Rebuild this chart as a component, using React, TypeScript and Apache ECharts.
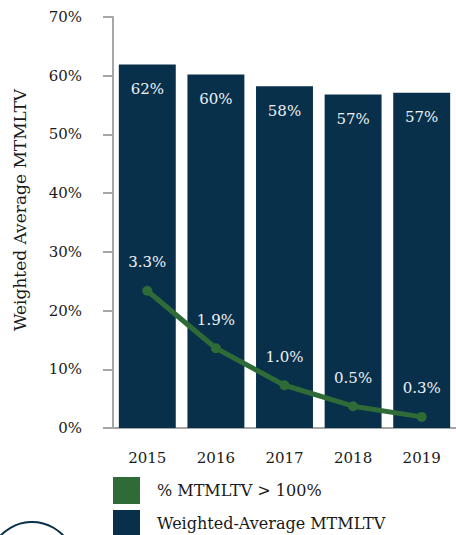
import React, { useEffect, useRef } from "react";
import * as echarts from "echarts";

const years = ["2015", "2016", "2017", "2018", "2019"];
const weightedAvg = [61.9, 60.2, 58.2, 56.8, 57.1];
const overHundred = [3.34, 1.94, 1.04, 0.53, 0.27];
const yTicks = [0, 10, 20, 30, 40, 50, 60, 70];
const seriesNames = ["% MTMLTV > 100%", "Weighted-Average MTMLTV"];

const NAVY = "#08304b";
const GREEN = "#2e6b36";
const FONT = "DejaVu Serif";

export default function App() {
  const ref = useRef<HTMLDivElement>(null);
  useEffect(() => {
    if (!ref.current) return;
    const chart = echarts.init(ref.current, null, { renderer: "svg" });
    const legendBase = {
      orient: "horizontal",
      left: 108,
      itemWidth: 27,
      itemHeight: 27,
      icon: "rect",
      textStyle: { fontFamily: FONT, fontSize: 16, lineHeight: 16, color: "#1a1a1a", padding: [0, 0, 0, 12] },
    };
    chart.setOption({
      animation: false,
      textStyle: { fontFamily: FONT },
      grid: { left: 113, top: 17, width: 344, height: 411, containLabel: false },
      legend: [
        { ...legendBase, top: 472, data: [seriesNames[0]] },
        { ...legendBase, top: 505, data: [seriesNames[1]] },
      ],
      xAxis: {
        type: "category",
        data: years,
        axisLine: { lineStyle: { color: "#a6a6a6", width: 2 } },
        axisTick: { show: false },
        axisLabel: { fontFamily: FONT, fontSize: 15, color: "#1a1a1a", margin: 22 },
      },
      yAxis: [
        {
          type: "value",
          min: yTicks[0],
          max: yTicks[yTicks.length - 1],
          interval: 10,
          axisLine: { show: true, lineStyle: { color: "#a6a6a6", width: 2 } },
          axisTick: { show: true, length: 10, lineStyle: { color: "#a6a6a6", width: 2 } },
          splitLine: { show: false },
          axisLabel: { fontFamily: FONT, fontSize: 15, color: "#1a1a1a", margin: 31, formatter: "{value}%" },
        },
        {
          type: "value",
          min: 0,
          max: 10,
          show: false,
          splitLine: { show: false },
        },
      ],
      series: [
        {
          name: seriesNames[1],
          type: "bar",
          data: weightedAvg,
          barCategoryGap: "17%",
          itemStyle: { color: NAVY },
          label: {
            show: true,
            position: "insideTop",
            distance: 17,
            fontFamily: FONT,
            fontSize: 15,
            color: "#eef2f5",
            formatter: (p: any) => Math.round(p.value) + "%",
          },
          z: 1,
        },
        {
          name: seriesNames[0],
          type: "line",
          yAxisIndex: 1,
          data: overHundred,
          lineStyle: { color: GREEN, width: 5 },
          itemStyle: { color: GREEN },
          symbol: "circle",
          symbolSize: 10,
          label: {
            show: true,
            position: "top",
            distance: 16,
            fontFamily: FONT,
            fontSize: 15,
            color: "#eef2f5",
            formatter: (p: any) => p.value.toFixed(1) + "%",
          },
          z: 3,
        },
      ],
      graphic: [
        {
          type: "text",
          x: 20,
          y: 210,
          rotation: Math.PI / 2,
          style: {
            text: "Weighted Average MTMLTV",
            fontFamily: FONT,
            fontSize: 17,
            fill: "#1a1a1a",
            align: "center",
            verticalAlign: "middle",
          },
        },
        {
          type: "circle",
          shape: { cx: 32, cy: 565, r: 43 },
          style: { fill: "none", stroke: NAVY, lineWidth: 2 },
        },
      ],
    });
    return () => chart.dispose();
  }, []);
  return (
    <div
      ref={ref}
      style={{ position: "fixed", left: 0, top: 0, width: 456, height: 535, background: "#fff" }}
    />
  );
}
